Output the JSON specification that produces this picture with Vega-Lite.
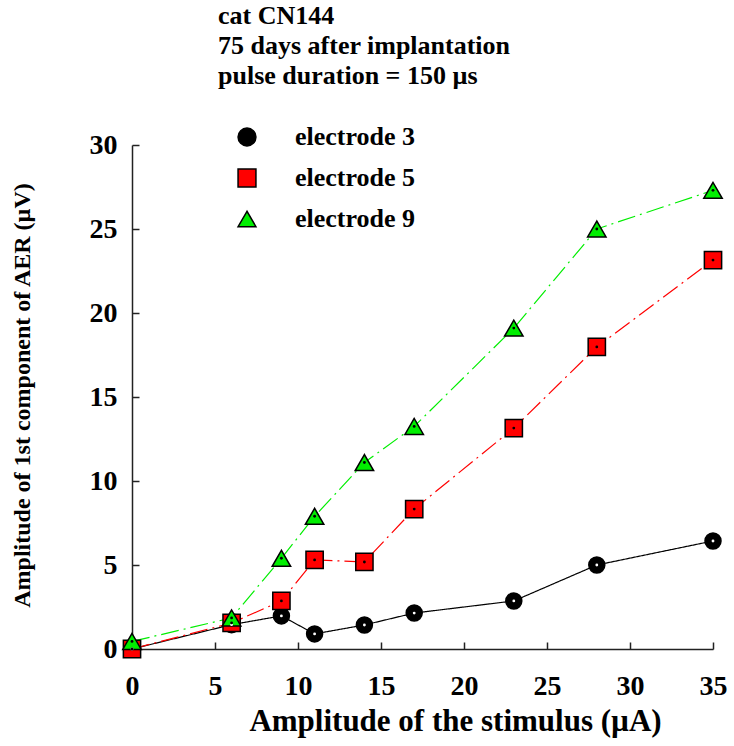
{
  "$schema": "https://vega.github.io/schema/vega-lite/v6.json",
  "width": 581,
  "height": 504,
  "autosize": {"type": "none"},
  "padding": {"left": 132, "top": 145, "right": 21, "bottom": 97},
  "background": "white",
  "config": {
    "view": {"stroke": null},
    "font": "Liberation Serif"
  },
  "title": {
    "text": ["cat CN144", "75 days after implantation", "pulse duration = 150 µs"],
    "anchor": "start",
    "frame": "group",
    "dx": 86,
    "offset": 35,
    "font": "Liberation Serif",
    "fontSize": 26,
    "fontWeight": "bold",
    "lineHeight": 30,
    "color": "black"
  },
  "data": {
    "values": [
      {"series": "electrode 3", "x": 0, "y": 0},
      {"series": "electrode 3", "x": 6, "y": 1.45},
      {"series": "electrode 3", "x": 9, "y": 1.97},
      {"series": "electrode 3", "x": 11, "y": 0.9},
      {"series": "electrode 3", "x": 14, "y": 1.43},
      {"series": "electrode 3", "x": 17, "y": 2.14},
      {"series": "electrode 3", "x": 23, "y": 2.86},
      {"series": "electrode 3", "x": 28, "y": 5.0},
      {"series": "electrode 3", "x": 35, "y": 6.43},
      {"series": "electrode 5", "x": 0, "y": 0},
      {"series": "electrode 5", "x": 6, "y": 1.55},
      {"series": "electrode 5", "x": 9, "y": 2.86},
      {"series": "electrode 5", "x": 11, "y": 5.3},
      {"series": "electrode 5", "x": 14, "y": 5.18},
      {"series": "electrode 5", "x": 17, "y": 8.33},
      {"series": "electrode 5", "x": 23, "y": 13.15},
      {"series": "electrode 5", "x": 28, "y": 17.98},
      {"series": "electrode 5", "x": 35, "y": 23.15},
      {"series": "electrode 9", "x": 0, "y": 0.45},
      {"series": "electrode 9", "x": 6, "y": 1.85},
      {"series": "electrode 9", "x": 9, "y": 5.4},
      {"series": "electrode 9", "x": 11, "y": 7.9},
      {"series": "electrode 9", "x": 14, "y": 11.1},
      {"series": "electrode 9", "x": 17, "y": 13.25},
      {"series": "electrode 9", "x": 23, "y": 19.1},
      {"series": "electrode 9", "x": 28, "y": 25.0},
      {"series": "electrode 9", "x": 35, "y": 27.3}
    ]
  },
  "encoding": {
    "x": {
      "field": "x",
      "type": "quantitative",
      "scale": {"domain": [0, 35], "nice": false, "zero": false},
      "axis": {
        "title": "Amplitude of the stimulus (µA)",
        "values": [0, 5, 10, 15, 20, 25, 30, 35],
        "grid": false,
        "domainColor": "#222222",
        "domainWidth": 1.5,
        "tickColor": "#222222",
        "tickWidth": 1.5,
        "tickSize": -7,
        "labelPadding": 30,
        "labelFont": "Liberation Serif",
        "labelFontSize": 28,
        "labelFontWeight": "bold",
        "labelColor": "black",
        "labelFlush": false,
        "titleFont": "Liberation Serif",
        "titleFontSize": 31,
        "titleFontWeight": "bold",
        "titleColor": "black",
        "titleX": 323,
        "titleY": 81,
        "titleAnchor": null,
        "titleAlign": "center",
        "titleBaseline": "alphabetic"
      }
    },
    "y": {
      "field": "y",
      "type": "quantitative",
      "scale": {"domain": [0, 30], "nice": false, "zero": false},
      "axis": {
        "title": "Amplitude of 1st  component of AER (µV)",
        "values": [0, 5, 10, 15, 20, 25, 30],
        "grid": false,
        "domainColor": "#222222",
        "domainWidth": 1.5,
        "tickColor": "#222222",
        "tickWidth": 1.5,
        "tickSize": -7,
        "labelPadding": 22,
        "labelFont": "Liberation Serif",
        "labelFontSize": 28,
        "labelFontWeight": "bold",
        "labelColor": "black",
        "labelFlush": false,
        "titleFont": "Liberation Serif",
        "titleFontSize": 24,
        "titleFontWeight": "bold",
        "titleColor": "black",
        "titleAngle": -90,
        "titleX": -110,
        "titleY": 250,
        "titleAnchor": null,
        "titleAlign": "center",
        "titleBaseline": "middle"
      }
    }
  },
  "layer": [
    {
      "mark": {"type": "line", "strokeWidth": 1.2},
      "encoding": {
        "stroke": {
          "field": "series",
          "type": "nominal",
          "scale": {"domain": ["electrode 5", "electrode 3", "electrode 9"], "range": ["#ff0000", "black", "#00ee00"]},
          "legend": null
        },
        "strokeDash": {
          "field": "series",
          "type": "nominal",
          "scale": {"domain": ["electrode 9", "electrode 3", "electrode 5"], "range": [[18, 5, 2, 5], [1, 0], [18, 5, 2, 5]]},
          "legend": null
        }
      }
    },
    {
      "mark": {"type": "point", "filled": true, "stroke": "black", "strokeWidth": 1.5, "opacity": 1},
      "encoding": {
        "fill": {
          "field": "series",
          "type": "nominal",
          "scale": {"domain": ["electrode 3", "electrode 5", "electrode 9"], "range": ["black", "#ff0000", "#00ee00"]},
          "legend": {
            "title": null,
            "orient": "none",
            "legendX": 102,
            "legendY": -21,
            "symbolStrokeColor": "black",
            "symbolStrokeWidth": 1.5,
            "symbolSize": 320,
            "symbolOpacity": 1,
            "labelFont": "Liberation Serif",
            "labelFontSize": 26,
            "labelFontWeight": "bold",
            "labelColor": "black",
            "labelOffset": 35,
            "rowPadding": 15,
            "labelLimit": 300
          }
        },
        "shape": {
          "field": "series",
          "type": "nominal",
          "scale": {"domain": ["electrode 3", "electrode 5", "electrode 9"], "range": ["circle", "square", "triangle-up"]}
        },
        "size": {
          "field": "series",
          "type": "nominal",
          "scale": {"domain": ["electrode 9", "electrode 5", "electrode 3"], "range": [340, 256, 380]},
          "legend": null
        }
      }
    },
    {
      "mark": {"type": "point", "filled": true, "shape": "circle", "size": 8, "opacity": 1},
      "encoding": {
        "color": {
          "condition": {"test": "datum.series === 'electrode 3'", "value": "white"},
          "value": "black"
        }
      }
    }
  ]
}
